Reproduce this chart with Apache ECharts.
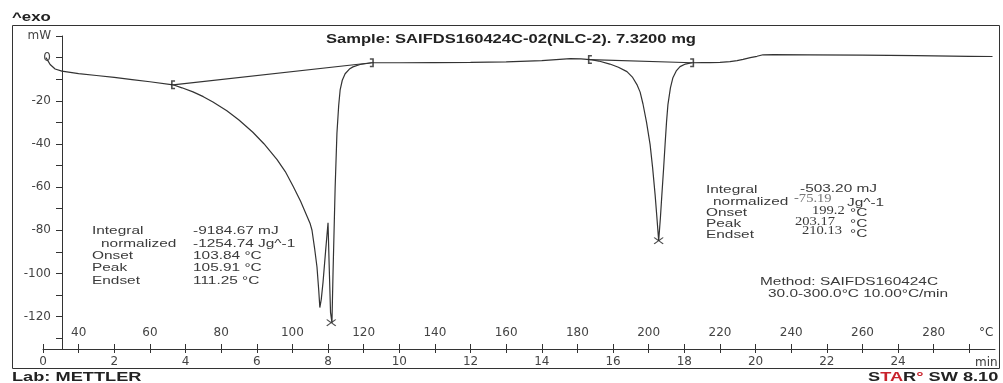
<!DOCTYPE html>
<html>
<head>
<meta charset="utf-8">
<script src="https://cdn.jsdelivr.net/npm/echarts@6/dist/echarts.min.js"></script>
<style>
  html, body { margin: 0; padding: 0; background: #fff; }
  #chart { width: 1003px; height: 383px; }
</style>
</head>
<body>
<div id="chart"></div>
<script>
// DSC curve, heat flow (mW) against sample temperature (°C)
const tempC = [30.8, 31.4, 32, 33.4, 35.3, 40, 45, 50, 55, 60, 66.5, 69, 72.1, 75, 77.7, 81.6, 85, 88.9, 92, 95.7, 98, 100.2,
  102.3, 104.1, 105, 105.5, 106.2, 106.9, 107.4, 107.7, 108.1, 108.6, 109.3, 110, 110.3, 110.7, 111.1, 111.4, 112, 112.5, 113, 113.4,
  114, 114.8, 116, 117, 119, 122.3, 130, 140, 150, 160, 170, 175, 178, 181, 183.5, 186, 189.1, 191.5, 193.9, 195.5,
  196.7, 197.6, 198.4, 199.4, 200.4, 201.1, 201.8, 202.3, 202.8, 203.3, 203.7, 204.2, 204.6, 205, 205.4, 206.1, 206.8, 207.8, 208.8, 210.3,
  212.2, 215, 217.2, 220, 222.8, 224.8, 226.5, 228.5, 230.4, 232.1, 235, 245, 260, 275, 290, 296.5]
const heatFlow = [0, -1.5, -3.2, -5.3, -6.3, -7.4, -8.3, -9.2, -10.2, -11.2, -12.6, -14, -15.9, -18.1, -20.6, -24.6, -28.9, -34.6, -39.9, -47.3, -52.8, -59.6,
  -66.6, -73.5, -77, -80, -88, -97, -108, -115.8, -112, -104, -90, -76.5, -95, -118, -122.8, -100, -60, -35, -22, -15,
  -10.5, -7.5, -5.3, -4.3, -3.2, -2.4, -2.4, -2.3, -2.2, -2, -1.4, -0.8, -0.5, -0.6, -0.9, -1.6, -3, -4.5, -6.5, -9.2,
  -12.5, -16, -21.5, -30, -40.3, -51, -63.5, -74, -84.8, -74, -63.5, -51, -40.3, -30, -21.8, -14, -9.3, -6, -4.2, -3,
  -2.4, -2.3, -2.3, -2.2, -1.9, -1.4, -0.8, 0, 0.6, 1.3, 1.4, 1.3, 1.1, 0.9, 0.6, 0.5]

// integration baselines and their limits
const base1T = [66.5, 122.3]
const base1Y = [-12.6, -2.4]
const base2T = [183.5, 212.2]
const base2Y = [-0.9, -2.4]

// peak markers
const peakT = [110.9, 202.8]
const peakY = [-122.8, -84.8]

// axis ticks and labels
const tempTicks = [30, 40, 50, 60, 70, 80, 90, 100, 110, 120, 130, 140, 150, 160, 170, 180, 190, 200, 210, 220, 230, 240, 250, 260, 270, 280, 290]
const tempLabels = [40, 60, 80, 100, 120, 140, 160, 180, 200, 220, 240, 260, 280]
const timeTicks = [0, 1, 2, 3, 4, 5, 6, 7, 8, 9, 10, 11, 12, 13, 14, 15, 16, 17, 18, 19, 20, 21, 22, 23, 24, 25, 26]
const timeLabels = [0, 2, 4, 6, 8, 10, 12, 14, 16, 18, 20, 22, 24]
const yTicks = [10, 0, -10, -20, -30, -40, -50, -60, -70, -80, -90, -100, -110, -120, -130]
const yLabels = [10, 0, -20, -40, -60, -80, -100, -120]

const ink = '#333'
const axisFont = { color: '#444', fontSize: 12, fontFamily: 'DejaVu Sans' }

function txt(x, y, text, opts = {}) {
  return {
    type: 'text', x, y, scaleX: opts.scaleX ?? 1.4,
    style: {
      text,
      font: opts.font || '11px "Liberation Sans"',
      fill: opts.fill || '#3a3a3a',
      verticalAlign: 'middle',
      rich: opts.rich,
    },
  }
}

const serif = { font: '13px "Liberation Serif"', scaleX: 1.12 }
const bracketL = 'path://M0,0 H4 V1.6 H1.6 V8.4 H4 V10 H0 Z'
const bracketR = 'path://M0,0 H4 V10 H0 V8.4 H2.4 V1.6 H0 Z'
const cross = 'path://M0,1 L1,0 L5,4 L9,0 L10,1 L6,5 L10,9 L9,10 L5,6 L1,10 L0,9 L4,5 Z'
const lineStyle = { color: ink, width: 1.2 }

const chart = echarts.init(document.getElementById('chart'))
chart.setOption({
  animation: false,
  backgroundColor: '#fff',
  grid: { left: 43, right: 8, top: 36, bottom: 34 },
  xAxis: [
    {
      type: 'value', position: 'bottom', min: 30, max: 297.2,
      axisLine: { onZero: false, lineStyle: { color: ink, width: 1 } },
      axisTick: { inside: true, length: 5, customValues: tempTicks, lineStyle: { color: ink } },
      axisLabel: { inside: true, margin: 10, customValues: tempLabels, ...axisFont },
      splitLine: { show: false },
    },
    {
      type: 'value', position: 'bottom', min: 0, max: 26.72,
      axisLine: { show: false, onZero: false },
      axisTick: { length: 4, customValues: timeTicks, lineStyle: { color: ink } },
      axisLabel: { margin: 7, customValues: timeLabels, ...axisFont },
      splitLine: { show: false },
    },
  ],
  yAxis: {
    type: 'value', min: -135, max: 10, offset: -19,
    axisLine: { show: true, onZero: false, lineStyle: { color: ink } },
    axisTick: { length: 6, customValues: yTicks, lineStyle: { color: ink } },
    axisLabel: {
      margin: 11, customValues: yLabels, ...axisFont,
      formatter: v => (v === 10 ? 'mW' : String(v)),
    },
    splitLine: { show: false },
  },
  series: [
    {
      type: 'line', data: tempC.map((t, i) => [t, heatFlow[i]]),
      showSymbol: false, lineStyle, z: 3,
    },
    {
      type: 'line', data: base1T.map((t, i) => [t, base1Y[i]]),
      showSymbol: false, lineStyle, z: 4,
    },
    {
      type: 'line', data: base2T.map((t, i) => [t, base2Y[i]]),
      showSymbol: false, lineStyle, z: 4,
    },
    {
      type: 'scatter', symbol: bracketL, symbolSize: [4, 9],
      data: [[base1T[0], base1Y[0]], [base2T[0], base2Y[0]]],
      itemStyle: { color: '#222' }, z: 5,
    },
    {
      type: 'scatter', symbol: bracketR, symbolSize: [4, 9],
      data: [[base1T[1], base1Y[1]], [base2T[1], base2Y[1]]],
      itemStyle: { color: '#222' }, z: 5,
    },
    {
      type: 'scatter', symbol: cross, symbolSize: [10, 7],
      data: peakT.map((t, i) => [t, peakY[i]]),
      itemStyle: { color: '#222' }, z: 5,
    },
  ],
  graphic: [
    { type: 'rect', shape: { x: 12.5, y: 25.5, width: 987, height: 343 }, style: { fill: null, stroke: ink, lineWidth: 1 } },
    txt(12, 18, '^exo', { font: 'bold 12px "Liberation Sans"', fill: '#222' }),
    txt(326, 40, 'Sample: SAIFDS160424C-02(NLC-2). 7.3200 mg', { font: 'bold 12px "Liberation Sans"', fill: '#222', scaleX: 1.38 }),
    txt(12, 377, 'Lab: METTLER', { font: 'bold 13px "Liberation Sans"', fill: '#222' }),
    txt(868, 377, '{k|S}{r|TA}{k|R}{r|°}{k| SW 8.10}', {
      font: 'bold 13px "Liberation Sans"', fill: '#222',
      rich: { k: { fill: '#222', font: 'bold 13px "Liberation Sans"' }, r: { fill: '#c8232c', font: 'bold 13px "Liberation Sans"' } },
    }),
    txt(979, 333, '°C', { font: '12px "DejaVu Sans"', scaleX: 1 }),
    txt(975, 363, 'min', { font: '12px "DejaVu Sans"', scaleX: 1 }),

    // first peak evaluation
    txt(92, 231, 'Integral'),
    txt(101, 244, 'normalized'),
    txt(92, 256, 'Onset'),
    txt(92, 268, 'Peak'),
    txt(92, 281, 'Endset'),
    txt(193, 231, '-9184.67 mJ'),
    txt(193, 244, '-1254.74 Jg^-1'),
    txt(193, 256, '103.84 °C'),
    txt(193, 268, '105.91 °C'),
    txt(193, 281, '111.25 °C'),

    // second peak evaluation
    txt(706, 190, 'Integral'),
    txt(713, 202, 'normalized'),
    txt(706, 213, 'Onset'),
    txt(706, 224, 'Peak'),
    txt(706, 235, 'Endset'),
    txt(800, 189, '-503.20 mJ'),
    txt(794, 199, '-75.19', { ...serif, fill: '#777' }),
    txt(847, 203, 'Jg^-1'),
    txt(812, 211, '199.2', serif),
    txt(850, 213, '°C'),
    txt(795, 222, '203.17', serif),
    txt(850, 224, '°C'),
    txt(802, 231, '210.13', serif),
    txt(850, 234, '°C'),

    txt(760, 282, 'Method: SAIFDS160424C'),
    txt(768, 294, '30.0-300.0°C 10.00°C/min'),
  ],
})
</script>
</body>
</html>
